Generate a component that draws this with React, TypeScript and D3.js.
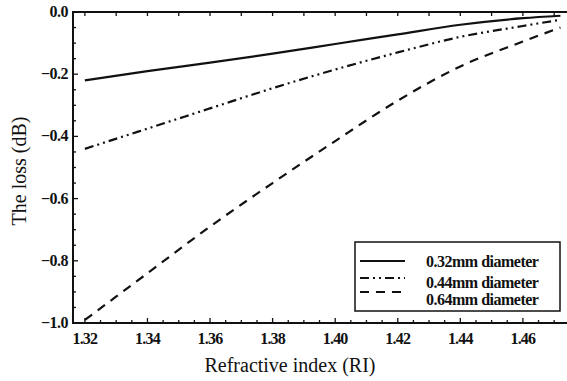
import React, { useEffect, useRef } from 'react';
import * as d3 from 'd3';

// refractive index samples
const ri = [1.32, 1.34, 1.36, 1.38, 1.40, 1.42, 1.44, 1.46, 1.472];
// loss (dB) per fibre diameter
const loss032 = [-0.22, -0.19, -0.163, -0.134, -0.103, -0.072, -0.041, -0.02, -0.012];
const loss044 = [-0.44, -0.375, -0.31, -0.245, -0.185, -0.13, -0.08, -0.045, -0.025];
const loss064 = [-0.99, -0.84, -0.69, -0.55, -0.415, -0.285, -0.175, -0.095, -0.05];

const seriesNames = ['0.32mm diameter', '0.44mm diameter', '0.64mm diameter'];
const xTicks = [1.32, 1.34, 1.36, 1.38, 1.40, 1.42, 1.44, 1.46];
const yTicks = [0, -0.2, -0.4, -0.6, -0.8, -1.0];

const App = () => {
  const svgRef = useRef<SVGSVGElement | null>(null);

  useEffect(() => {
    if (!svgRef.current) return;
    const svg = d3.select(svgRef.current);
    svg.selectAll('*').remove();

    const W = 567, H = 381;
    const left = 73, top = 12, right = 567, bottom = 323;
    const font = "'Liberation Serif', serif";

    const x = d3.scaleLinear().domain([1.3162, 1.4741]).range([left, right]);
    const y = d3.scaleLinear().domain([-1, 0]).range([bottom, top]);

    svg.attr('width', W).attr('height', H);
    svg.append('rect').attr('width', W).attr('height', H).attr('fill', '#fff');

    const axis = svg.append('g').attr('stroke', '#111').attr('fill', 'none');
    // frame: left, top, bottom (no right border)
    axis.append('path')
      .attr('d', `M${right},${top}H${left}V${bottom}H${right}`)
      .attr('stroke-width', 2);

    // bottom ticks (inward)
    d3.range(1.32, 1.4741, 0.005).forEach((t, i) => {
      const major = i % 4 === 0;
      axis.append('line')
        .attr('x1', x(t)).attr('x2', x(t))
        .attr('y1', bottom).attr('y2', bottom - (major ? 5 : 3))
        .attr('stroke-width', 1.3);
    });
    // top ticks (inward)
    d3.range(1.32, 1.4741, 0.01).forEach(t => {
      axis.append('line')
        .attr('x1', x(t)).attr('x2', x(t))
        .attr('y1', top).attr('y2', top + 4)
        .attr('stroke-width', 1.3);
    });
    // left ticks (inward)
    d3.range(0, 21).forEach(i => {
      const v = -i * 0.05;
      axis.append('line')
        .attr('x1', left).attr('x2', left + (i % 4 === 0 ? 5 : 3))
        .attr('y1', y(v)).attr('y2', y(v))
        .attr('stroke-width', 1.3);
    });

    const labels = svg.append('g')
      .style('font-family', font).style('font-weight', 'bold')
      .style('font-size', '16px').attr('fill', '#111');

    xTicks.forEach(t => {
      labels.append('text')
        .attr('x', x(t)).attr('y', 344)
        .attr('text-anchor', 'middle')
        .attr('letter-spacing', -0.8)
        .text(d3.format('.2f')(t));
    });
    yTicks.forEach(t => {
      labels.append('text')
        .attr('x', 68).attr('y', y(t) + 5)
        .attr('text-anchor', 'end')
        .attr('letter-spacing', -0.5)
        .text(d3.format('.1f')(t).replace('-', '\u2212'));
    });

    svg.append('text')
      .attr('x', 290).attr('y', 372)
      .attr('text-anchor', 'middle')
      .style('font-family', font).style('font-size', '20px').attr('fill', '#111')
      .text('Refractive index (RI)');

    svg.append('text')
      .attr('transform', 'translate(26,171) rotate(-90)')
      .attr('text-anchor', 'middle')
      .style('font-family', font).style('font-size', '20px').attr('fill', '#111')
      .text('The loss (dB)');

    const dashes = [null, '9,4,2,4,2,4', '9,7'];
    const allSeries = [loss032, loss044, loss064];
    const line = d3.line<number>()
      .x((_, i) => x(ri[i]))
      .y(d => y(d))
      .curve(d3.curveMonotoneX);

    allSeries.forEach((s, k) => {
      svg.append('path')
        .datum(s)
        .attr('d', line)
        .attr('fill', 'none')
        .attr('stroke', '#111')
        .attr('stroke-width', 2.2)
        .attr('stroke-dasharray', dashes[k]);
    });

    // legend
    const lg = svg.append('g');
    lg.append('rect')
      .attr('x', 355).attr('y', 242).attr('width', 205).attr('height', 69)
      .attr('fill', '#fff').attr('stroke', '#111').attr('stroke-width', 1.5);
    const sampleY = [261, 278, 292];
    const textY = [267, 288, 305];
    seriesNames.forEach((name, k) => {
      lg.append('line')
        .attr('x1', 360).attr('x2', 405)
        .attr('y1', sampleY[k]).attr('y2', sampleY[k])
        .attr('stroke', '#111').attr('stroke-width', 2)
        .attr('stroke-dasharray', dashes[k]);
      lg.append('text')
        .attr('x', 426).attr('y', textY[k])
        .style('font-family', font).style('font-size', '16px')
        .style('font-weight', 'bold').attr('fill', '#111')
        .attr('letter-spacing', -0.5)
        .text(name);
    });
  }, []);

  return (
    <svg ref={svgRef} style={{ position: 'absolute', left: 0, top: 0, display: 'block' }} />
  );
};

export default App;
